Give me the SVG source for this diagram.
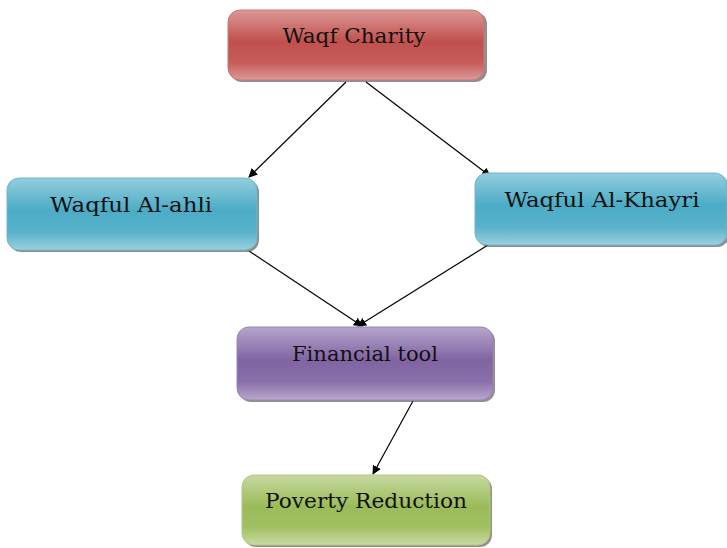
<svg xmlns="http://www.w3.org/2000/svg" width="727" height="548" viewBox="0 0 727 548">
<style>
.lbl{font-family:"DejaVu Serif","Liberation Serif",serif;font-size:20px;fill:#111;text-anchor:middle}
.shadow{fill:#444;opacity:0.6}
.conn{stroke:#000;stroke-width:1.2;fill:none;marker-end:url(#ah)}
</style>
<defs>
<marker id="ah" viewBox="0 0 10 10" refX="9" refY="5" markerWidth="9" markerHeight="9" markerUnits="userSpaceOnUse" orient="auto"><path d="M0,0 L10,5 L0,10 z" fill="#000"/></marker>
<linearGradient id="gr" x1="0" y1="0" x2="0" y2="1"><stop offset="0" stop-color="#dc9897"/><stop offset="0.45" stop-color="#c0504d"/><stop offset="0.75" stop-color="#c65c59"/><stop offset="1" stop-color="#dc9a98"/></linearGradient>
<linearGradient id="gb" x1="0" y1="0" x2="0" y2="1"><stop offset="0" stop-color="#93cddd"/><stop offset="0.45" stop-color="#4bacc6"/><stop offset="0.75" stop-color="#58b2ca"/><stop offset="1" stop-color="#9ad0de"/></linearGradient>
<linearGradient id="gp" x1="0" y1="0" x2="0" y2="1"><stop offset="0" stop-color="#b6a6cc"/><stop offset="0.45" stop-color="#8064a2"/><stop offset="0.75" stop-color="#8a70aa"/><stop offset="1" stop-color="#b8a8cc"/></linearGradient>
<linearGradient id="gg" x1="0" y1="0" x2="0" y2="1"><stop offset="0" stop-color="#c6d9a0"/><stop offset="0.45" stop-color="#9bbb59"/><stop offset="0.75" stop-color="#a2c063"/><stop offset="1" stop-color="#c8daa2"/></linearGradient>
</defs>
<g id="connectors">
<line class="conn" x1="346" y1="82" x2="249" y2="177"/>
<line class="conn" x1="366" y1="82" x2="490" y2="176"/>
<line class="conn" x1="249" y1="251" x2="362" y2="326"/>
<line class="conn" x1="488" y1="245" x2="358" y2="326"/>
<line class="conn" x1="413" y1="401" x2="373" y2="474"/>
</g>
<g id="waqf-charity">
<rect class="shadow" x="230" y="12" width="257" height="70" rx="12"/>
<rect x="228" y="10" width="256" height="70" rx="12" fill="url(#gr)" stroke="#c77a78" stroke-width="1"/>
<text class="lbl" x="354" y="43" textLength="143" lengthAdjust="spacingAndGlyphs">Waqf Charity</text>
</g>
<g id="waqful-al-ahli">
<rect class="shadow" x="9" y="180" width="250" height="72" rx="12"/>
<rect x="7" y="178" width="250" height="72" rx="12" fill="url(#gb)" stroke="#6fb8cc" stroke-width="1"/>
<text class="lbl" x="131" y="212" textLength="162" lengthAdjust="spacingAndGlyphs">Waqful Al-ahli</text>
</g>
<g id="waqful-al-khayri">
<rect class="shadow" x="477" y="175" width="252" height="72" rx="12"/>
<rect x="475" y="173" width="252" height="72" rx="12" fill="url(#gb)" stroke="#6fb8cc" stroke-width="1"/>
<text class="lbl" x="602" y="207" textLength="195" lengthAdjust="spacingAndGlyphs">Waqful Al-Khayri</text>
</g>
<g id="financial-tool">
<rect class="shadow" x="239" y="329" width="256" height="73" rx="12"/>
<rect x="237" y="327" width="256" height="73" rx="12" fill="url(#gp)" stroke="#9a85b8" stroke-width="1"/>
<text class="lbl" x="365" y="361" textLength="146" lengthAdjust="spacingAndGlyphs">Financial tool</text>
</g>
<g id="poverty-reduction">
<rect class="shadow" x="244" y="477" width="248" height="70" rx="12"/>
<rect x="242" y="475" width="248" height="70" rx="12" fill="url(#gg)" stroke="#b0c97c" stroke-width="1"/>
<text class="lbl" x="366" y="508" textLength="202" lengthAdjust="spacingAndGlyphs">Poverty Reduction</text>
</g>
</svg>
